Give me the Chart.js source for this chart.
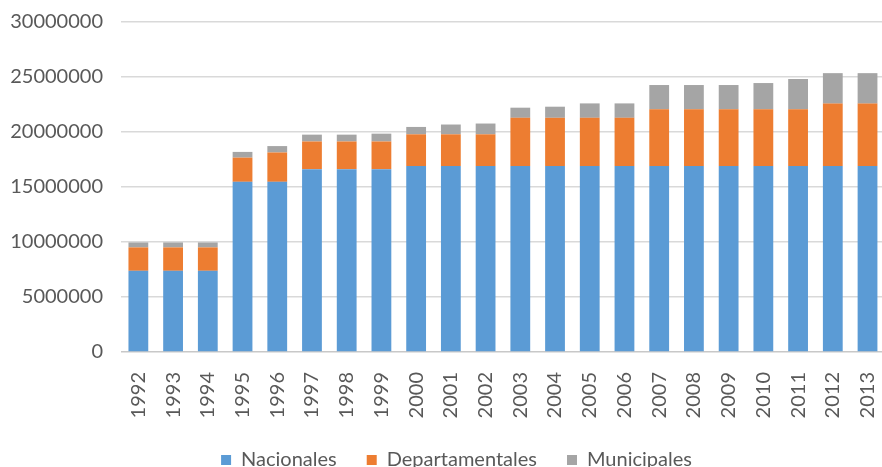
<!DOCTYPE html>
<html>
<head>
<meta charset="utf-8">
<script src="https://cdn.jsdelivr.net/npm/chart.js@4.4.1/dist/chart.umd.min.js"></script>
<style>
  html, body { margin: 0; padding: 0; background: #fff; }
  #wrap { width: 882px; height: 467px; overflow: hidden; position: relative; }
  canvas { display: block; }
</style>
</head>
<body>
<div id="wrap">
  <canvas id="fundsChart" width="912" height="480"></canvas>
</div>
<script>
const years = ['1992', '1993', '1994', '1995', '1996', '1997', '1998', '1999', '2000', '2001', '2002',
    '2003', '2004', '2005', '2006', '2007', '2008', '2009', '2010', '2011', '2012', '2013'];

const nacionales = [7380000, 7380000, 7380000, 15470000, 15470000, 16620000, 16620000, 16620000,
    16910000, 16910000, 16910000, 16910000, 16910000, 16910000, 16910000, 16910000, 16910000,
    16910000, 16910000, 16910000, 16910000, 16910000];

const departamentales = [2130000, 2130000, 2130000, 2200000, 2670000, 2520000, 2520000, 2520000,
    2880000, 2880000, 2880000, 4380000, 4380000, 4380000, 4380000, 5150000, 5150000,
    5150000, 5150000, 5150000, 5670000, 5670000];

const municipales = [450000, 450000, 450000, 520000, 580000, 620000, 620000, 710000,
    670000, 890000, 980000, 920000, 1010000, 1310000, 1310000, 2210000, 2210000,
    2210000, 2390000, 2760000, 2770000, 2770000];

const yTicks = [0, 5000000, 10000000, 15000000, 20000000, 25000000, 30000000];

const textColor = '#595959';
const fontFamily = 'Lato, "Open Sans", sans-serif';

// the legend is centred on the whole original figure, a bit right of the canvas centre
const legendShift = {
    id: 'legendShift',
    afterLayout(chart) {
        if (chart.legend) {
            chart.legend.left += 11;
            chart.legend.right += 11;
        }
    }
};

const ctx = document.getElementById('fundsChart').getContext('2d');
let fundsChart = new Chart(ctx, {
    type: 'bar',
    data: {
        labels: years,
        datasets: [
            { label: 'Nacionales', data: nacionales, backgroundColor: '#5b9bd5' },
            { label: 'Departamentales', data: departamentales, backgroundColor: '#ed7d31' },
            { label: 'Municipales', data: municipales, backgroundColor: '#a5a5a5' }
        ]
    },
    options: {
        responsive: false,
        animation: false,
        layout: { padding: { top: 22, right: 21, left: 0, bottom: 0 } },
        datasets: {
            bar: { categoryPercentage: 1.0, barPercentage: 0.57 }
        },
        scales: {
            x: {
                stacked: true,
                grid: { display: false, drawTicks: false },
                border: { display: false },
                ticks: {
                    color: textColor,
                    font: { family: fontFamily, size: 20 },
                    minRotation: 90,
                    maxRotation: 90,
                    padding: 20,
                    autoSkip: false
                },
                afterFit: (scale) => { scale.height = 68; }
            },
            y: {
                stacked: true,
                min: 0,
                max: 30000000,
                afterBuildTicks: (scale) => { scale.ticks = yTicks.map(v => ({ value: v })); },
                grid: {
                    color: (c) => c.tick && c.tick.value === 0 ? '#c8c8c8' : '#d9d9d9',
                    lineWidth: 1.5,
                    drawTicks: false
                },
                border: { display: false },
                ticks: {
                    color: textColor,
                    font: { family: fontFamily, size: 20 },
                    padding: 18,
                    callback: (v) => String(v)
                },
                afterFit: (scale) => {
                    scale.width = 121;
                    // let layout.padding decide the top of the plot
                    scale.paddingTop = 0;
                    scale.paddingBottom = 0;
                }
            }
        },
        plugins: {
            legend: {
                position: 'bottom',
                labels: {
                    color: textColor,
                    font: { family: fontFamily, size: 20 },
                    boxWidth: 10,
                    boxHeight: 10,
                    padding: 30
                }
            },
            tooltip: { enabled: false }
        }
    },
    plugins: [legendShift]
});
</script>
</body>
</html>
